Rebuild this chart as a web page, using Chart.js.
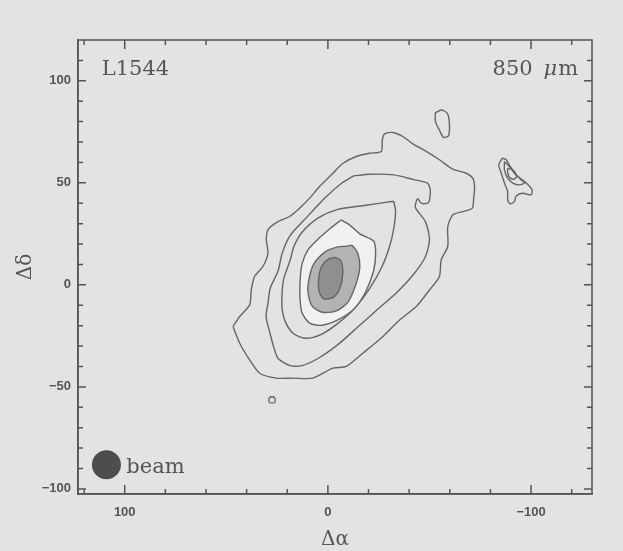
<!DOCTYPE html>
<html><head><meta charset="utf-8">
<script src="https://cdn.jsdelivr.net/npm/chart.js@4.4.1/dist/chart.umd.min.js"></script>
<style>html,body{margin:0;padding:0;background:#e3e3e3;}canvas{display:block}</style>
</head><body>
<canvas id="c" width="623" height="551"></canvas>
<script>
// ---- tick labels ----
const xTicks = [100, 0, -100];
const yTicks = [-100, -50, 0, 50, 100];

// ---- contour levels (Δα, Δδ in arcsec) ----
const contour1 = [[46.7,-20.4],[43.4,-15.5],[38.5,-9.8],[37.7,-2.5],[36.1,4.1],[32,9],[29.5,15.5],[30.3,22.1],[29.5,27],[24.6,31],[18.8,33.5],[13.9,37.6],[9,42.5],[4.1,48.2],[-2.5,54.7],[-7.4,59.6],[-14,62.9],[-20.5,64.5],[-26.3,65.4],[-26.8,71.1],[-27.9,74],[-32,74.7],[-36.9,72.7],[-41.8,69.1],[-48.4,65.4],[-54.9,61.3],[-61.5,56.7],[-68.1,54.7],[-71.3,52.3],[-72.2,48.2],[-71.7,41.7],[-71.1,37.6],[-66.4,35.9],[-61.5,34.3],[-59,28.6],[-59,18.8],[-55.8,12.3],[-54.9,4.1],[-50,-2.5],[-43.5,-10.6],[-35.3,-17.2],[-27.1,-25.3],[-17.2,-33.5],[-9,-40],[-2.5,-40.8],[7.4,-45.7],[17.2,-45.7],[25.4,-45.7],[33.6,-43.3],[38.5,-36.8],[43.4,-28.6],[46.7,-20.4]];
const contour2 = [[-12.7,53.4],[-20.6,54.2],[-32.4,53.9],[-42.2,51.6],[-49,49.9],[-50.4,46.5],[-49.6,40.4],[-46.1,39.9],[-44.1,42.2],[-43.1,37.9],[-48,31],[-50,22.4],[-48,13.8],[-42.2,5.2],[-34.3,-3.4],[-24.5,-12],[-14.7,-20.7],[-4.9,-29.3],[4.9,-36.1],[12.7,-39.6],[18.6,-39.6],[24.5,-36.1],[26.5,-31],[28.4,-24.1],[30.4,-15.5],[29.4,-8.6],[28.4,-1.7],[24.5,6.9],[22.5,15.5],[18.6,24.1],[10.8,32.7],[1,43],[-6.9,49.9],[-12.7,53.4]];
const contour3 = [[-32.4,41],[-33.3,36.1],[-32.4,27.5],[-30.4,18.9],[-26.5,8.6],[-20.6,-1.7],[-12.7,-12],[-4.9,-18.9],[2.9,-24.1],[10.8,-26.2],[16.7,-24.1],[20.6,-18.9],[22.5,-12],[22.5,-3.4],[21.6,3.4],[18.6,12],[16.7,18.9],[12.7,25.8],[4.9,32.7],[-4.9,37],[-18.6,39],[-28.4,40.4],[-32.4,41]];
const contour4 = [[-6.5,31.8],[-10.8,29.3],[-15.7,25],[-22.5,21.5],[-23.5,15.5],[-22.5,6.9],[-18.6,-3.4],[-12.7,-12],[-4.9,-17.2],[2.9,-19.8],[8.8,-18.9],[12.7,-13.8],[13.7,-6.9],[13.7,1.7],[12.7,10.3],[9.8,17.2],[4.9,22.4],[-1,27.5],[-6.5,31.8]];
const contour5 = [[-8.8,18.9],[-11.8,19.3],[-14.7,15.5],[-15.7,8.6],[-13.7,0],[-9.8,-8.6],[-3.9,-12.9],[2.9,-13.4],[7.8,-10.3],[9.8,-3.4],[9.2,3.4],[6.9,10.3],[1,16.4],[-4.9,18.6],[-8.8,18.9]];
const contour6 = [[-3.9,13.4],[-6.5,11.7],[-7.3,5.2],[-5.9,-1.7],[-2.9,-6],[2,-6.9],[4.3,-3.4],[4.5,3.4],[2.9,9.5],[-0.6,12.9],[-3.9,13.4]];
const islandNorth = [[-52.9,84.3],[-55.9,85.7],[-58.8,84],[-59.8,79.2],[-59.4,73.1],[-56.9,72.3],[-54.9,75.8],[-52.9,80.1],[-52.9,84.3]];
const blobOuter = [[-85.8,62.1],[-87.8,61.3],[-89.7,58],[-92.7,53.9],[-97.6,49.9],[-100.5,46.6],[-100,44.1],[-95.9,44.9],[-92.7,43.6],[-91.8,40.8],[-89.7,39.7],[-88.5,41.7],[-88.5,45.7],[-86.9,49.9],[-85.3,54.8],[-84.1,58.8],[-85.8,62.1]];
const blobMid = [[-86.9,60.4],[-89.4,58],[-91.8,54.8],[-95.1,51.5],[-96.8,49.9],[-94.3,49],[-91,49.9],[-88.5,52.3],[-86.9,56.4],[-86.9,60.4]];
const blobInner = [[-88.5,57.2],[-91,56.4],[-93,53.4],[-91.8,51.8],[-89.7,52.3],[-88.5,54.8],[-88.5,57.2]];
const spotSouth = [[27.5,-56.4]];
const beamPos = [[109,-88.2]];

const toPts = a => a.map(([x, y]) => ({x, y}));
const LINE = '#666666';
function contourDs(arr, order, fillColor) {
  return {
    data: toPts(arr), showLine: true, tension: 0.25, pointRadius: 0,
    borderColor: LINE, borderWidth: 1.4, order,
    fill: fillColor ? 'shape' : false,
    backgroundColor: fillColor || 'rgba(0,0,0,0)'
  };
}

const framePlugin = {
  id: 'frame',
  beforeDraw(chart) {
    const ctx = chart.ctx;
    ctx.save(); ctx.fillStyle = '#e3e3e3';
    ctx.fillRect(0, 0, chart.width, chart.height); ctx.restore();
  },
  afterDatasetsDraw(chart) {
    const {ctx, chartArea: {left, right, top, bottom}, scales: {x, y}} = chart;
    ctx.save();
    ctx.strokeStyle = '#555'; ctx.lineWidth = 1.5;
    ctx.strokeRect(left, top, right - left, bottom - top);
    ctx.beginPath();
    for (let v = -120; v <= 120; v += 20) {
      const px = x.getPixelForValue(v);
      const len = v % 100 === 0 ? 9 : 5;
      ctx.moveTo(px, bottom); ctx.lineTo(px, bottom - len);
      ctx.moveTo(px, top); ctx.lineTo(px, top + len);
    }
    for (let v = -100; v < 120; v += 10) {
      const py = y.getPixelForValue(v);
      const len = v % 50 === 0 ? 8 : 5;
      ctx.moveTo(left, py); ctx.lineTo(left + len, py);
      ctx.moveTo(right, py); ctx.lineTo(right - len, py);
    }
    ctx.stroke();
    // annotations
    ctx.fillStyle = '#555';
    ctx.textBaseline = 'alphabetic';
    ctx.font = '21px "DejaVu Serif"';
    ctx.textAlign = 'left';
    ctx.fillText('L1544', x.getPixelForValue(111.3), y.getPixelForValue(103));
    // 850 μm
    ctx.textAlign = 'right';
    let rx = x.getPixelForValue(-123.2);
    const by = y.getPixelForValue(103);
    ctx.fillText('m', rx, by);
    rx -= ctx.measureText('m').width + 1;
    ctx.font = 'italic 21px "DejaVu Serif"';
    ctx.fillText('\u03bc', rx, by);
    rx -= ctx.measureText('\u03bc').width + 11;
    ctx.font = '21px "DejaVu Serif"';
    ctx.fillText('850', rx, by);
    ctx.textAlign = 'left';
    ctx.font = '21px "DejaVu Serif"';
    ctx.fillText('beam', x.getPixelForValue(99.2), y.getPixelForValue(-92.2));
    ctx.restore();
  }
};

const tickFont = {family: '"Liberation Sans", Arial, sans-serif', size: 13, weight: 'bold'};
const fmt = v => v < 0 ? '\u2212' + Math.abs(v) : String(v);

new Chart(document.getElementById('c'), {
  type: 'scatter',
  data: {
    datasets: [
      {data: toPts(beamPos), pointRadius: 14.5, backgroundColor: '#4d4d4d', borderWidth: 0, order: 0},
      {data: toPts(spotSouth), pointRadius: 3.2, backgroundColor: 'rgba(0,0,0,0)', borderColor: LINE, borderWidth: 1.3, order: 0},
      contourDs(contour6, 1, '#8f8f8f'),
      contourDs(contour5, 2, '#b3b3b3'),
      contourDs(contour4, 3, '#f1f1f1'),
      contourDs(contour3, 4),
      contourDs(contour2, 5),
      contourDs(contour1, 6),
      contourDs(islandNorth, 6),
      contourDs(blobOuter, 6),
      contourDs(blobMid, 6),
      contourDs(blobInner, 6)
    ]
  },
  options: {
    responsive: false, animation: false,
    layout: {padding: {top: 40, right: 31, left: 0, bottom: 0}},
    plugins: {legend: {display: false}, tooltip: {enabled: false}},
    scales: {
      x: {
        type: 'linear', reverse: true, min: -130, max: 123,
        afterBuildTicks: s => { s.ticks = xTicks.map(v => ({value: v})); },
        afterFit: s => { s.height = 57; },
        grid: {display: false, drawTicks: false},
        border: {display: true, color: '#555', width: 1.5},
        ticks: {padding: 11, color: '#555', font: tickFont, maxRotation: 0, callback: fmt},
        title: {display: true, text: '\u0394\u03b1', color: '#555',
          font: {family: '"DejaVu Serif"', size: 20, lineHeight: 1}, padding: {top: 0, bottom: 1}}
      },
      y: {
        type: 'linear', min: -102.5, max: 120,
        afterBuildTicks: s => { s.ticks = yTicks.map(v => ({value: v})); },
        afterFit: s => { s.width = 78; },
        grid: {display: false, drawTicks: false},
        border: {display: true, color: '#555', width: 1.5},
        ticks: {padding: 7, color: '#555', font: tickFont, callback: fmt},
        title: {display: true, text: '\u0394\u03b4', color: '#555',
          font: {family: '"DejaVu Serif"', size: 20, lineHeight: 1}, padding: {top: 16, bottom: 0}}
      }
    }
  },
  plugins: [framePlugin]
});
</script>
</body></html>
